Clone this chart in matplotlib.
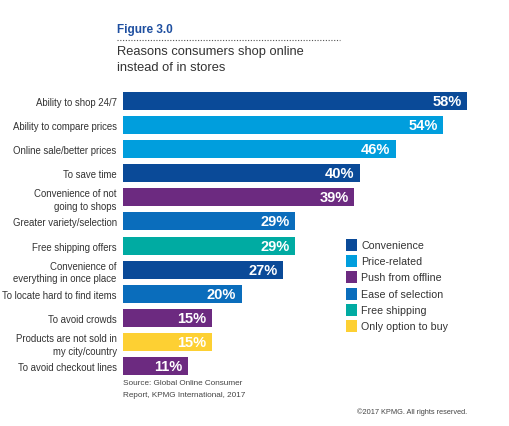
import matplotlib
matplotlib.use("Agg")
import matplotlib.pyplot as plt
from matplotlib.patches import Rectangle

plt.rcParams['font.family'] = ['Liberation Sans', 'DejaVu Sans']

categories = [
    "Ability to shop 24/7",
    "Ability to compare prices",
    "Online sale/better prices",
    "To save time",
    "Convenience of not\ngoing to shops",
    "Greater variety/selection",
    "Free shipping offers",
    "Convenience of\neverything in once place",
    "To locate hard to find items",
    "To avoid crowds",
    "Products are not sold in\nmy city/country",
    "To avoid checkout lines",
]
values = [58, 54, 46, 40, 39, 29, 29, 27, 20, 15, 15, 11]
groups = ["Convenience", "Price-related", "Price-related", "Convenience",
          "Push from offline", "Ease of selection", "Free shipping",
          "Convenience", "Ease of selection", "Push from offline",
          "Only option to buy", "Push from offline"]
legend_labels = ["Convenience", "Price-related", "Push from offline",
                 "Ease of selection", "Free shipping", "Only option to buy"]
colors = {
    "Convenience": "#0A4A98",
    "Price-related": "#009EDD",
    "Push from offline": "#6C2A80",
    "Ease of selection": "#0A6DBC",
    "Free shipping": "#00ABA2",
    "Only option to buy": "#FDD033",
}

W, H = 510, 427
fig = plt.figure(figsize=(W / 100, H / 100), dpi=100)
fig.patch.set_facecolor("white")

ax = fig.add_axes([123 / W, 1 - 379 / H, 344 / W, 289 / H])
ypos = list(range(len(categories)))
ax.barh(ypos, values, height=0.75,
        color=[colors[g] for g in groups], edgecolor="none")
ax.set_xlim(0, 58)
ax.set_ylim(len(categories) - 0.5, -0.5)
for s in ax.spines.values():
    s.set_visible(False)
ax.set_xticks([])
ax.set_yticks(ypos)
ax.set_yticklabels(categories, fontsize=6.9, color="#333333", linespacing=1.35)
ax.tick_params(axis="y", length=0, pad=4.5)

for y, v in zip(ypos, values):
    ax.annotate(f"{v}%", xy=(v, y), xytext=(-4, 0), textcoords="offset points",
                ha="right", va="center", color="white", fontsize=10.5,
                fontweight="bold")

# Legend
lx, ly0, dy = 346 / W, 246, 16.2
for i, lab in enumerate(legend_labels):
    yc = 1 - (ly0 + i * dy) / H
    fig.patches.append(Rectangle((lx, yc - 6 / H), 11 / W, 12 / H,
                                 transform=fig.transFigure,
                                 facecolor=colors[lab], edgecolor="none"))
    fig.text(361 / W, yc, lab, fontsize=7.7, color="#333333", va="center", ha="left")

# Titles
fig.text(117 / W, 1 - 30 / H, "Figure 3.0", fontsize=8.5, fontweight="bold",
         color="#1E4FA0", va="center", ha="left")
fig.add_artist(plt.Line2D([117 / W, 340 / W], [1 - 41 / H, 1 - 41 / H],
                          transform=fig.transFigure, color="#555555",
                          linestyle=(0, (1, 1.5)), linewidth=0.8))
fig.text(117 / W, 1 - 52 / H, "Reasons consumers shop online",
         fontsize=9.3, color="#333333", va="center", ha="left")
fig.text(117 / W, 1 - 68 / H, "instead of in stores",
         fontsize=9.3, color="#333333", va="center", ha="left")

# Source
fig.text(123 / W, 1 - 384 / H, "Source: Global Online Consumer",
         fontsize=5.9, color="#444444", va="center", ha="left")
fig.text(123 / W, 1 - 396 / H, "Report, KPMG International, 2017",
         fontsize=5.9, color="#444444", va="center", ha="left")
fig.text(467 / W, 1 - 412 / H, "\u00a92017 KPMG. All rights reserved.",
         fontsize=5.3, color="#444444", va="center", ha="right")

fig.savefig("out.png", dpi=100)
